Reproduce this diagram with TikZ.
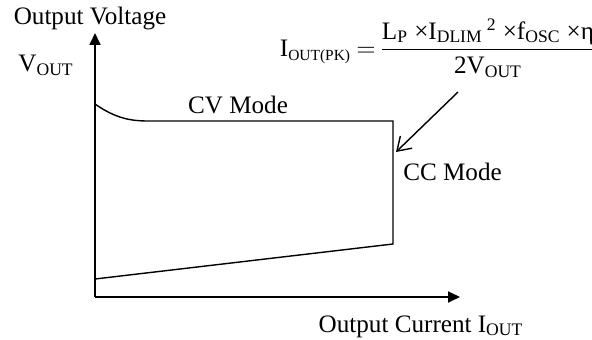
\documentclass[tikz,border=0pt]{standalone}
\usepackage{fontspec}
\setmainfont{Liberation Serif}
\usepackage{amsmath}
\usetikzlibrary{arrows.meta}

\newcommand{\lowsub}[1]{\raisebox{-0.35ex}{\fontsize{8.8}{10}\selectfont #1}}

\begin{document}
\begin{tikzpicture}[line width=0.8pt, every node/.style={font=\fontsize{14.3}{17}\selectfont, inner sep=1pt}]

\useasboundingbox (0,0) rectangle (11.84,6.78);

% Graph axes
\coordinate (O) at (1.90,0.84);
\coordinate (ytip) at (1.90,6.12);
\coordinate (xtip) at (9.20,0.84);
\draw[line width=1pt,-{Triangle[length=2.4mm,width=2.2mm]}] (O) -- (ytip);
\draw[line width=1pt,-{Triangle[length=2.4mm,width=2.2mm]}] (O) -- (xtip);

% Axis labels
\node (ylab) at (1.80,6.42) {Output Voltage};
\node (vout) at (0.92,5.48) {V\textsubscript{OUT}};
\node (xlab) at (8.42,0.25) {Output Current I\textsubscript{OUT}};

% Output envelope
\coordinate (c_1) at (1.90,4.70);
\coordinate (c_2) at (2.96,4.36);
\coordinate (c_3) at (7.86,4.36);
\coordinate (c_4) at (7.86,1.90);
\coordinate (c_5) at (1.90,1.20);
\draw (c_1) .. controls (2.30,4.42) and (2.60,4.36) .. (c_2) -- (c_3) -- (c_4) -- (c_5);

% Mode labels
\node (cv) at (4.76,4.68) {CV Mode};
\node (cc) at (9.05,3.34) {CC Mode};

% Peak current formula
\node (eq) at (8.76,5.82) {I\lowsub{OUT(PK)} $=$\,$\dfrac{\text{L\textsubscript{P} ×I\textsubscript{DLIM}\,\textsuperscript{2} ×f\textsubscript{OSC} ×η}}{\text{2V\textsubscript{OUT}}}$};
\coordinate (a_1) at (9.16,4.94);
\coordinate (a_2) at (7.92,3.74);
\draw[-{Straight Barb[length=2.6mm,width=3.4mm]}] (a_1) -- (a_2);

\end{tikzpicture}
\end{document}
